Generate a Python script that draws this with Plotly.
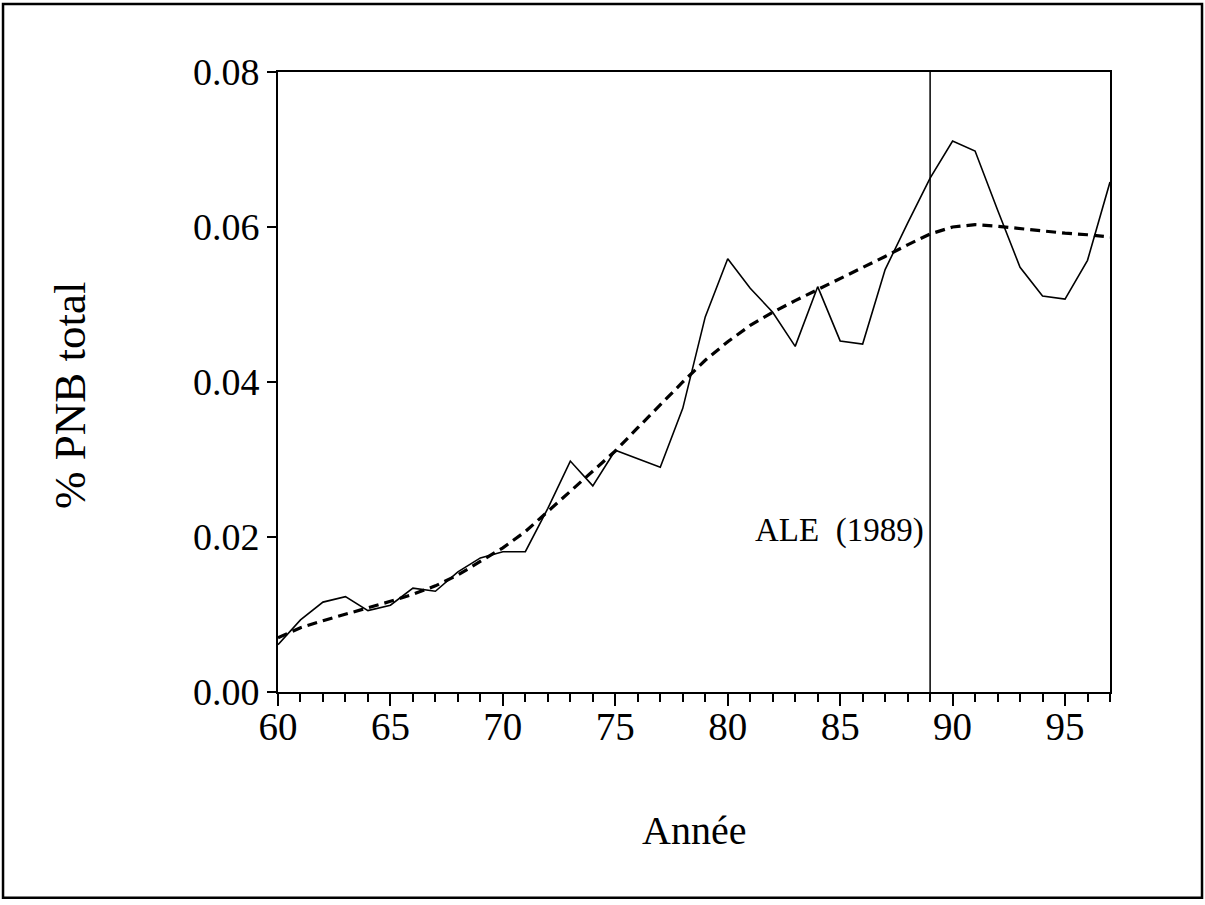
import plotly.graph_objects as go

years = list(range(60, 98))
share = [0.0061, 0.0093, 0.0116, 0.0123, 0.0105, 0.0112, 0.0134, 0.0130, 0.0155, 0.0173,
         0.0181, 0.0181, 0.0237, 0.0298, 0.0266, 0.0312, 0.0301, 0.0290, 0.0366, 0.0484,
         0.0559, 0.0521, 0.0490, 0.0446, 0.0523, 0.0453, 0.0449, 0.0545, 0.0605, 0.0663,
         0.0711, 0.0698, 0.0622, 0.0548, 0.0511, 0.0507, 0.0557, 0.0658]
trend = [0.0070, 0.0083, 0.0092, 0.0100, 0.0108, 0.0117, 0.0126, 0.0137, 0.0151, 0.0168,
         0.0186, 0.0207, 0.0233, 0.0258, 0.0284, 0.0311, 0.0341, 0.0371, 0.0400, 0.0428,
         0.0452, 0.0473, 0.0490, 0.0505, 0.0519, 0.0533, 0.0547, 0.0562, 0.0577, 0.0591,
         0.0600, 0.0603, 0.0601, 0.0598, 0.0594, 0.0592, 0.0590, 0.0587]
event_year = 89
event_label = "ALE  (1989)"
x_ticks = [60, 65, 70, 75, 80, 85, 90, 95]
y_ticks = [0.00, 0.02, 0.04, 0.06, 0.08]

FONT = "Liberation Serif"

fig = go.Figure()
fig.add_trace(go.Scatter(x=years, y=share, mode="lines",
                         line=dict(color="black", width=1.6), showlegend=False))
fig.add_trace(go.Scatter(x=years, y=trend, mode="lines",
                         line=dict(color="black", width=3.2, dash="10px,6px"), showlegend=False))

fig.add_shape(type="line", xref="x", yref="y", x0=event_year, x1=event_year, y0=0, y1=0.08,
              line=dict(color="black", width=1.5))
fig.add_annotation(x=event_year, y=0.0208, xref="x", yref="y", text=event_label,
                   showarrow=False, xanchor="right", xshift=-4, yanchor="middle",
                   font=dict(family=FONT, size=33, color="black"))

# axis titles
fig.add_annotation(x=-0.25, y=0.479, xref="paper", yref="paper", text="% PNB total",
                   showarrow=False, textangle=-90, xanchor="center", yanchor="middle",
                   font=dict(family=FONT, size=45, color="black"))
fig.add_annotation(x=0.5, y=-0.2226, xref="paper", yref="paper", text="Année",
                   showarrow=False, xanchor="center", yanchor="middle",
                   font=dict(family=FONT, size=40, color="black"))

# outer frame
fig.add_shape(type="rect", xref="paper", yref="paper",
              x0=-0.3305, x1=1.1106, y0=-0.332, y1=1.1097,
              line=dict(color="black", width=2.5))

fig.update_layout(
    width=1205, height=905,
    margin=dict(l=278, r=95, t=72, b=213),
    paper_bgcolor="white", plot_bgcolor="white",
    font=dict(family=FONT, color="black"),
    xaxis=dict(range=[60, 97], tickvals=x_ticks, ticks="outside", ticklen=12, tickwidth=1.5,
               tickcolor="black", showline=True, linecolor="black", linewidth=2, mirror=True,
               showgrid=False, zeroline=False, tickfont=dict(family=FONT, size=39),
               ticklabelstandoff=-13,
               minor=dict(dtick=1, ticks="outside", ticklen=8, tickwidth=1.5, tickcolor="black", showgrid=False)),
    yaxis=dict(range=[0, 0.08], tickvals=y_ticks, tickformat=".2f", ticks="outside", ticklen=9,
               tickwidth=1.5, tickcolor="black", showline=True, linecolor="black", linewidth=2,
               mirror=True, showgrid=False, zeroline=False, tickfont=dict(family=FONT, size=38)),
)

fig.write_html("out.html", config={"displayModeBar": False},
               post_script="document.body.style.margin='0';")
